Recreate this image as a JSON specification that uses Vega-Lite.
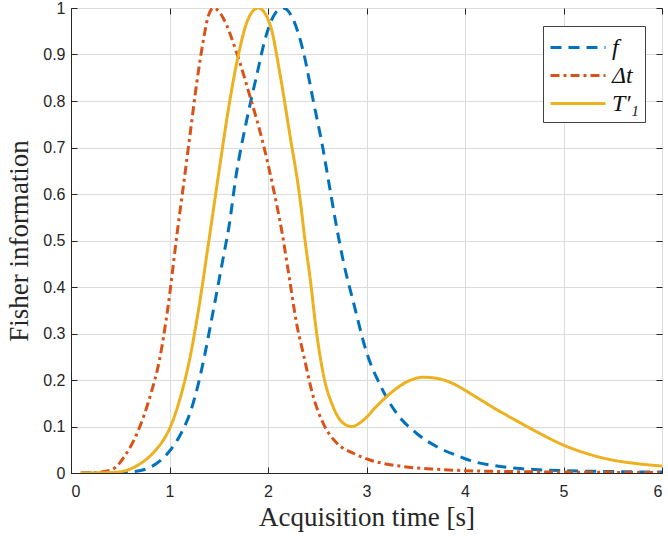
{
  "$schema": "https://vega.github.io/schema/vega-lite/v6.json",
  "width": 591,
  "height": 465,
  "autosize": {"type": "none"},
  "padding": {"left": 71, "top": 8, "right": 6, "bottom": 64},
  "background": "white",
  "config": {
    "view": {"stroke": "#262626", "strokeWidth": 1},
    "axis": {
      "gridColor": "#dcdcdc",
      "gridWidth": 1,
      "domainColor": "#262626",
      "tickColor": "#262626",
      "tickSize": -6,
      "labelFont": "Liberation Sans",
      "labelFontSize": 16,
      "labelColor": "#262626",
      "titleFont": "Liberation Serif",
      "titleFontSize": 27,
      "titleFontWeight": "normal",
      "titleColor": "#262626"
    }
  },
  "data": {"values": [
    {"t":0.1,"v":0,"s":"f"},{"t":0.5,"v":0,"s":"f"},{"t":0.6,"v":0.002,"s":"f"},{"t":0.78,"v":0.01,"s":"f"},{"t":0.98,"v":0.042,"s":"f"},{"t":1.117,"v":0.085,"s":"f"},{"t":1.218,"v":0.135,"s":"f"},{"t":1.286,"v":0.186,"s":"f"},{"t":1.354,"v":0.25,"s":"f"},{"t":1.42,"v":0.322,"s":"f"},{"t":1.49,"v":0.4,"s":"f"},{"t":1.556,"v":0.475,"s":"f"},{"t":1.6,"v":0.525,"s":"f"},{"t":1.68,"v":0.645,"s":"f"},{"t":1.78,"v":0.755,"s":"f"},{"t":1.885,"v":0.855,"s":"f"},{"t":1.987,"v":0.945,"s":"f"},{"t":2.09,"v":0.993,"s":"f"},{"t":2.155,"v":1.0,"s":"f"},{"t":2.257,"v":0.975,"s":"f"},{"t":2.36,"v":0.905,"s":"f"},{"t":2.46,"v":0.8,"s":"f"},{"t":2.56,"v":0.695,"s":"f"},{"t":2.63,"v":0.609,"s":"f"},{"t":2.7,"v":0.525,"s":"f"},{"t":2.765,"v":0.455,"s":"f"},{"t":2.87,"v":0.365,"s":"f"},{"t":3.0,"v":0.26,"s":"f"},{"t":3.137,"v":0.19,"s":"f"},{"t":3.307,"v":0.128,"s":"f"},{"t":3.51,"v":0.085,"s":"f"},{"t":3.71,"v":0.057,"s":"f"},{"t":3.95,"v":0.035,"s":"f"},{"t":4.05,"v":0.027,"s":"f"},{"t":4.29,"v":0.016,"s":"f"},{"t":4.525,"v":0.01,"s":"f"},{"t":4.75,"v":0.007,"s":"f"},{"t":5.0,"v":0.005,"s":"f"},{"t":5.5,"v":0.003,"s":"f"},{"t":6.0,"v":0.002,"s":"f"},
    {"t":0.1,"v":0,"s":"Δt"},{"t":0.3,"v":0.002,"s":"Δt"},{"t":0.4,"v":0.006,"s":"Δt"},{"t":0.44,"v":0.01,"s":"Δt"},{"t":0.54,"v":0.035,"s":"Δt"},{"t":0.68,"v":0.09,"s":"Δt"},{"t":0.81,"v":0.17,"s":"Δt"},{"t":0.9,"v":0.245,"s":"Δt"},{"t":0.98,"v":0.35,"s":"Δt"},{"t":1.08,"v":0.52,"s":"Δt"},{"t":1.14,"v":0.616,"s":"Δt"},{"t":1.21,"v":0.73,"s":"Δt"},{"t":1.276,"v":0.838,"s":"Δt"},{"t":1.343,"v":0.93,"s":"Δt"},{"t":1.39,"v":0.98,"s":"Δt"},{"t":1.445,"v":1.0,"s":"Δt"},{"t":1.5,"v":0.993,"s":"Δt"},{"t":1.546,"v":0.978,"s":"Δt"},{"t":1.68,"v":0.905,"s":"Δt"},{"t":1.817,"v":0.81,"s":"Δt"},{"t":1.95,"v":0.709,"s":"Δt"},{"t":2.05,"v":0.616,"s":"Δt"},{"t":2.14,"v":0.52,"s":"Δt"},{"t":2.22,"v":0.415,"s":"Δt"},{"t":2.29,"v":0.322,"s":"Δt"},{"t":2.36,"v":0.255,"s":"Δt"},{"t":2.46,"v":0.164,"s":"Δt"},{"t":2.56,"v":0.107,"s":"Δt"},{"t":2.7,"v":0.064,"s":"Δt"},{"t":2.87,"v":0.042,"s":"Δt"},{"t":3.035,"v":0.028,"s":"Δt"},{"t":3.37,"v":0.014,"s":"Δt"},{"t":3.71,"v":0.008,"s":"Δt"},{"t":4.0,"v":0.005,"s":"Δt"},{"t":4.5,"v":0.003,"s":"Δt"},{"t":5.0,"v":0.002,"s":"Δt"},{"t":6.0,"v":0.001,"s":"Δt"},
    {"t":0.1,"v":0,"s":"T′₁"},{"t":0.4,"v":0.001,"s":"T′₁"},{"t":0.51,"v":0.003,"s":"T′₁"},{"t":0.68,"v":0.017,"s":"T′₁"},{"t":0.846,"v":0.046,"s":"T′₁"},{"t":0.95,"v":0.075,"s":"T′₁"},{"t":1.0,"v":0.095,"s":"T′₁"},{"t":1.1,"v":0.155,"s":"T′₁"},{"t":1.2,"v":0.24,"s":"T′₁"},{"t":1.3,"v":0.358,"s":"T′₁"},{"t":1.4,"v":0.5,"s":"T′₁"},{"t":1.5,"v":0.645,"s":"T′₁"},{"t":1.6,"v":0.785,"s":"T′₁"},{"t":1.7,"v":0.9,"s":"T′₁"},{"t":1.8,"v":0.977,"s":"T′₁"},{"t":1.9,"v":1.0,"s":"T′₁"},{"t":2.02,"v":0.965,"s":"T′₁"},{"t":2.12,"v":0.86,"s":"T′₁"},{"t":2.22,"v":0.73,"s":"T′₁"},{"t":2.325,"v":0.59,"s":"T′₁"},{"t":2.376,"v":0.5,"s":"T′₁"},{"t":2.43,"v":0.415,"s":"T′₁"},{"t":2.49,"v":0.307,"s":"T′₁"},{"t":2.56,"v":0.214,"s":"T′₁"},{"t":2.66,"v":0.143,"s":"T′₁"},{"t":2.765,"v":0.107,"s":"T′₁"},{"t":2.85,"v":0.1,"s":"T′₁"},{"t":2.97,"v":0.114,"s":"T′₁"},{"t":3.1,"v":0.143,"s":"T′₁"},{"t":3.24,"v":0.171,"s":"T′₁"},{"t":3.41,"v":0.196,"s":"T′₁"},{"t":3.58,"v":0.206,"s":"T′₁"},{"t":3.75,"v":0.202,"s":"T′₁"},{"t":3.9,"v":0.19,"s":"T′₁"},{"t":4.0,"v":0.178,"s":"T′₁"},{"t":4.1,"v":0.165,"s":"T′₁"},{"t":4.2,"v":0.152,"s":"T′₁"},{"t":4.3,"v":0.139,"s":"T′₁"},{"t":4.4,"v":0.127,"s":"T′₁"},{"t":4.56,"v":0.108,"s":"T′₁"},{"t":4.76,"v":0.085,"s":"T′₁"},{"t":5.0,"v":0.06,"s":"T′₁"},{"t":5.235,"v":0.042,"s":"T′₁"},{"t":5.47,"v":0.029,"s":"T′₁"},{"t":5.71,"v":0.021,"s":"T′₁"},{"t":6.0,"v":0.015,"s":"T′₁"}
  ]},
  "layer": [
    {
      "mark": {"type": "line", "strokeWidth": 3, "interpolate": "monotone", "clip": true},
      "encoding": {
        "x": {"field": "t", "type": "quantitative", "scale": {"domain": [0, 6], "nice": false},
          "axis": {"values": [0,1,2,3,4,5,6], "title": "Acquisition time [s]", "labelPadding": 16, "titlePadding": 5}},
        "y": {"field": "v", "type": "quantitative", "scale": {"domain": [0, 1], "nice": false},
          "axis": {"values": [0,0.1,0.2,0.3,0.4,0.5,0.6,0.7,0.8,0.9,1], "format": ".1~f", "title": "Fisher information", "labelPadding": 12, "titlePadding": 9}},
        "color": {"field": "s", "type": "nominal",
          "scale": {"domain": ["f", "Δt", "T′₁"], "range": ["#0072BD", "#D95319", "#EDB120"]},
          "legend": {"title": null, "orient": "none", "legendX": 472, "legendY": 18,
            "symbolType": "M-1,0H2.93", "symbolSize": 784, "symbolStrokeWidth": 3,
            "labelOffset": 32,
            "labelFont": "Liberation Serif", "labelFontStyle": "italic", "labelFontSize": 24, "labelColor": "#111",
            "fillColor": "white", "strokeColor": "#404040", "padding": 6, "rowPadding": 0}},
        "strokeDash": {"field": "s", "type": "nominal",
          "scale": {"domain": ["f", "Δt", "T′₁"], "range": [[11, 7], [9, 4, 3, 4], [1, 0]]},
          "legend": {"title": null}}
      }
    },
    {
      "mark": {"type": "line", "strokeOpacity": 0},
      "encoding": {
        "x": {"field": "t", "type": "quantitative", "scale": {"domain": [0, 6], "nice": false},
          "axis": {"orient": "top", "values": [0,1,2,3,4,5,6], "labels": false, "grid": false, "domain": false, "title": null}},
        "y": {"field": "v", "type": "quantitative", "scale": {"domain": [0, 1], "nice": false},
          "axis": {"orient": "right", "values": [0,0.1,0.2,0.3,0.4,0.5,0.6,0.7,0.8,0.9,1], "labels": false, "grid": false, "domain": false, "title": null}}
      }
    }
  ],
  "resolve": {"axis": {"x": "independent", "y": "independent"}}
}
